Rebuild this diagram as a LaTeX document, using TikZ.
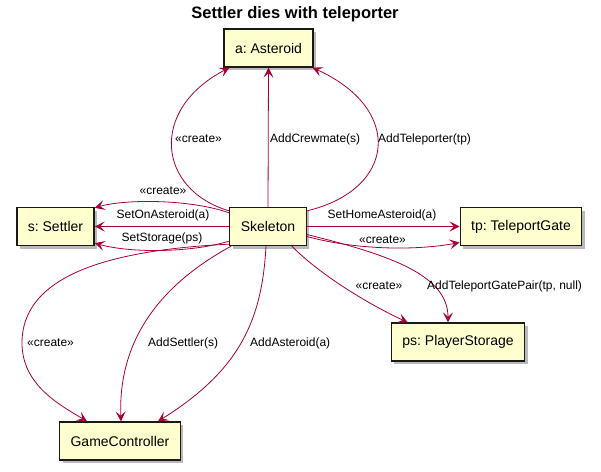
\documentclass[tikz,border=0pt]{standalone}
\usepackage{fontspec}
\setmainfont{Liberation Sans}
\frenchspacing
\usetikzlibrary{arrows.meta,shadows}
\definecolor{umlred}{HTML}{A80036}
\definecolor{umlfill}{HTML}{FEFECE}
\tikzset{
  obj/.style={draw=black!90, line width=1.3pt, fill=umlfill, minimum height=38pt, inner xsep=11pt,
    font=\fontsize{14}{16}\selectfont, drop shadow={shadow xshift=3pt, shadow yshift=-3pt, opacity=0.45, fill=black!60}},
  msg/.style={draw=umlred, line width=0.8pt, -{Stealth[length=10pt,width=10pt,inset=4.5pt]}},
  lbl/.style={inner sep=0pt, font=\fontsize{12}{14}\selectfont}
}
\begin{document}
\begin{tikzpicture}[x=1pt,y=-1pt]
  \useasboundingbox (0,0) rectangle (601,471);
  \node[font=\bfseries\fontsize{16.5}{18}\selectfont] (title) at (295,14) {Settler dies with teleporter};
  % objects
  \node[obj] (ast) at (268.5,48) {a: Asteroid};
  \node[obj] (set) at (55.5,226.5) {s: Settler};
  \node[obj] (skel) at (268,226.5) {Skeleton};
  \node[obj] (tp) at (521,226.5) {tp: TeleportGate};
  \node[obj] (ps) at (458,342) {ps: PlayerStorage};
  \node[obj] (gc) at (120,441) {GameController};
  % messages to the asteroid
  \draw[msg] ([yshift=-4pt]skel.north west) .. controls (158,190) and (148,110) .. ([xshift=6pt]ast.south west);
  \draw[msg] (skel.north) -- (ast.south);
  \draw[msg] ([yshift=-4pt]skel.north east) .. controls (395,190) and (405,110) .. ([xshift=-1pt]ast.south east);
  \node[lbl, anchor=west] (l1) at (175,139) {«create»};
  \node[lbl, anchor=west] (l2) at (270,139) {AddCrewmate(s)};
  \node[lbl, anchor=west] (l3) at (378,139) {AddTeleporter(tp)};
  % messages to the settler
  \draw[msg] ([yshift=-6pt]skel.north west) .. controls (190,199) and (125,199) .. ([yshift=-1pt]set.north east);
  \draw[msg] (skel.west) -- (set.east);
  \draw[msg] ([yshift=5pt]skel.south west) .. controls (190,253) and (130,253) .. ([yshift=3pt]set.south east);
  \node[lbl] (l4) at (163,191) {«create»};
  \node[lbl] (l5) at (163,215) {SetOnAsteroid(a)};
  \node[lbl] (l6) at (162,238) {SetStorage(ps)};
  % messages to the teleport gate
  \draw[msg] (skel.east) -- (tp.west);
  \draw[msg] ([yshift=-10pt]skel.east) .. controls (360,251) and (420,250) .. ([yshift=-16pt]tp.west);
  \node[lbl] (l7) at (382,215) {SetHomeAsteroid(a)};
  \node[lbl] (l8) at (382.5,240) {«create»};
  % messages to the player storage
  \draw[msg] ([xshift=-15pt]skel.south east) .. controls (320,275) and (370,305) .. ([xshift=17pt]ps.north west);
  \draw[msg] ([yshift=-8pt]skel.east) .. controls (390,255) and (448,275) .. ([xshift=-10pt]ps.north);
  \node[lbl] (l9) at (379,286) {«create»};
  \node[lbl, anchor=west] (l10) at (427,286) {AddTeleportGatePair(tp, null)};
  % messages to the game controller
  \draw[msg] ([yshift=2pt]skel.south west) .. controls (110,250) and (22,275) .. (22,343)
    .. controls (22,385) and (60,405) .. ([xshift=-33pt]gc.north);
  \draw[msg] ([xshift=2pt]skel.south west) .. controls (160,285) and (118,340) .. ([xshift=1pt]gc.north);
  \draw[msg] ([xshift=-2pt]skel.south) .. controls (262,320) and (240,370) .. ([xshift=38pt]gc.north);
  \node[lbl, anchor=west] (l11) at (27,343) {«create»};
  \node[lbl, anchor=west] (l12) at (148,343) {AddSettler(s)};
  \node[lbl, anchor=west] (l13) at (250,343) {AddAsteroid(a)};
\end{tikzpicture}
\end{document}
